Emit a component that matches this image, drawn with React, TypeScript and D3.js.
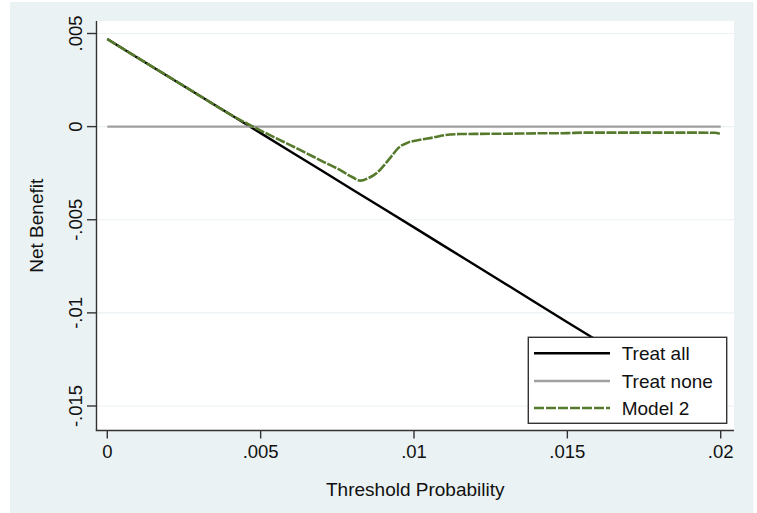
import React from "react";
import * as d3 from "d3";

const thresholds = [0, 0.001, 0.002, 0.003, 0.004, 0.005, 0.006, 0.007, 0.008, 0.009, 0.01, 0.011, 0.012, 0.013, 0.014, 0.015, 0.016, 0.017, 0.018, 0.019, 0.02];
const treatAll = [0.0047, 0.00369, 0.00268, 0.00167, 0.00066, -0.00035, -0.00136, -0.00237, -0.00339, -0.0044, -0.00541, -0.00643, -0.00744, -0.00846, -0.00948, -0.0105, -0.01151, -0.01253, -0.01355, -0.01458, -0.0156];
const treatNoneX = [0, 0.02];
const treatNone = [0, 0];
const model2X = [0, 0.001, 0.002, 0.003, 0.004, 0.0048, 0.0055, 0.006, 0.0065, 0.007, 0.0075, 0.008, 0.00825, 0.0085, 0.0088, 0.009, 0.0093, 0.0095, 0.0098, 0.0102, 0.0106, 0.011, 0.0115, 0.012, 0.013, 0.014, 0.015, 0.0155, 0.017, 0.019, 0.0198, 0.02];
const model2 = [0.0047, 0.00369, 0.00268, 0.00167, 0.00066, -0.00004, -0.00062, -0.00102, -0.00143, -0.00185, -0.00225, -0.00272, -0.0029, -0.00277, -0.00247, -0.00212, -0.00152, -0.00113, -0.00086, -0.00071, -0.00059, -0.00046, -0.0004, -0.00039, -0.00038, -0.00036, -0.00035, -0.00032, -0.00032, -0.00032, -0.00033, -0.0004];
const xTicks = [0, 0.005, 0.01, 0.015, 0.02];
const xTickLabels = ["0", ".005", ".01", ".015", ".02"];
const yTicks = [0.005, 0, -0.005, -0.01, -0.015];
const yTickLabels = [".005", "0", "-.005", "-.01", "-.015"];
const legendLabels = ["Treat all", "Treat none", "Model 2"];

const W = 757, H = 513;
const plotL = 96.5, plotR = 734, plotT = 21, plotB = 430.5;
const FONT = "'Liberation Sans', Arial, Helvetica, sans-serif";
const BG = "#EAF2F3";
const AXIS = "#333333";
const GREEN = "#567A2C";

export default function App() {
  const x = d3.scaleLinear().domain([0, 0.02]).range([107.3, 720.7]);
  const y = d3.scaleLinear().domain([0.005, -0.015]).range([33.5, 406]);
  const line = d3.line<[number, number]>().x(d => x(d[0])).y(d => y(d[1]));
  const curved = d3.line<[number, number]>().x(d => x(d[0])).y(d => y(d[1])).curve(d3.curveMonotoneX);
  const zip = (a: number[], b: number[]) => a.map((v, i) => [v, b[i]] as [number, number]);

  const legendX = 528.3, legendY = 337.3, legendW = 198.4, legendH = 86;
  const legendRows = [353.3, 381, 408];
  const legendStyles = [
    { stroke: "#000000", dash: undefined as string | undefined },
    { stroke: "#A0A0A0", dash: undefined },
    { stroke: GREEN, dash: "10 2" },
  ];

  return (
    <svg width={W} height={H} style={{ position: "absolute", left: 0, top: 0 }} xmlns="http://www.w3.org/2000/svg">
      <rect x={0} y={0} width={W} height={H} fill="#ffffff" />
      <rect x={10} y={2} width={743.5} height={H - 2} fill={BG} />
      <rect x={plotL} y={plotT} width={plotR - plotL} height={plotB - plotT} fill="#ffffff" />
      {yTicks.map((t, i) => (
        <line key={"g" + i} x1={plotL} x2={plotR} y1={y(t)} y2={y(t)} stroke={BG} strokeWidth={1.2} />
      ))}
      <path d={line(zip(thresholds, treatAll)) || ""} fill="none" stroke="#000000" strokeWidth={2.4} strokeLinejoin="round" />
      <path d={line(zip(treatNoneX, treatNone)) || ""} fill="none" stroke="#A0A0A0" strokeWidth={2.4} />
      <path d={curved(zip(model2X, model2)) || ""} fill="none" stroke={GREEN} strokeWidth={2.6} strokeDasharray="10 1.5" strokeLinejoin="round" />
      <line x1={plotL} x2={plotL} y1={plotT} y2={plotB} stroke={AXIS} strokeWidth={1.4} />
      <line x1={plotL - 0.7} x2={plotR} y1={plotB} y2={plotB} stroke={AXIS} strokeWidth={1.4} />
      {yTicks.map((t, i) => (
        <g key={"yt" + i}>
          <line x1={plotL - 9.5} x2={plotL} y1={y(t)} y2={y(t)} stroke={AXIS} strokeWidth={1.4} />
          <text transform={`translate(81.5,${y(t)}) rotate(-90)`} textAnchor="middle" fontFamily={FONT} fontSize={18.5} fill="#111">{yTickLabels[i]}</text>
        </g>
      ))}
      {xTicks.map((t, i) => (
        <g key={"xt" + i}>
          <line x1={x(t)} x2={x(t)} y1={plotB} y2={plotB + 8} stroke={AXIS} strokeWidth={1.4} />
          <text x={x(t)} y={458} textAnchor="middle" fontFamily={FONT} fontSize={18.5} fill="#111">{xTickLabels[i]}</text>
        </g>
      ))}
      <text x={(plotL + plotR) / 2} y={495.5} textAnchor="middle" fontFamily={FONT} fontSize={19} fill="#111">Threshold Probability</text>
      <text transform={`translate(43,${(plotT + plotB) / 2}) rotate(-90)`} textAnchor="middle" fontFamily={FONT} fontSize={19} fill="#111">Net Benefit</text>
      <rect x={legendX} y={legendY} width={legendW} height={legendH} fill="#ffffff" stroke={AXIS} strokeWidth={1.4} />
      {legendLabels.map((lab, i) => (
        <g key={"lg" + i}>
          <line x1={534} x2={610} y1={legendRows[i]} y2={legendRows[i]} stroke={legendStyles[i].stroke} strokeWidth={2.6} strokeDasharray={legendStyles[i].dash} />
          <text x={621.7} y={legendRows[i] + 6.8} fontFamily={FONT} fontSize={19} fill="#111">{lab}</text>
        </g>
      ))}
    </svg>
  );
}
